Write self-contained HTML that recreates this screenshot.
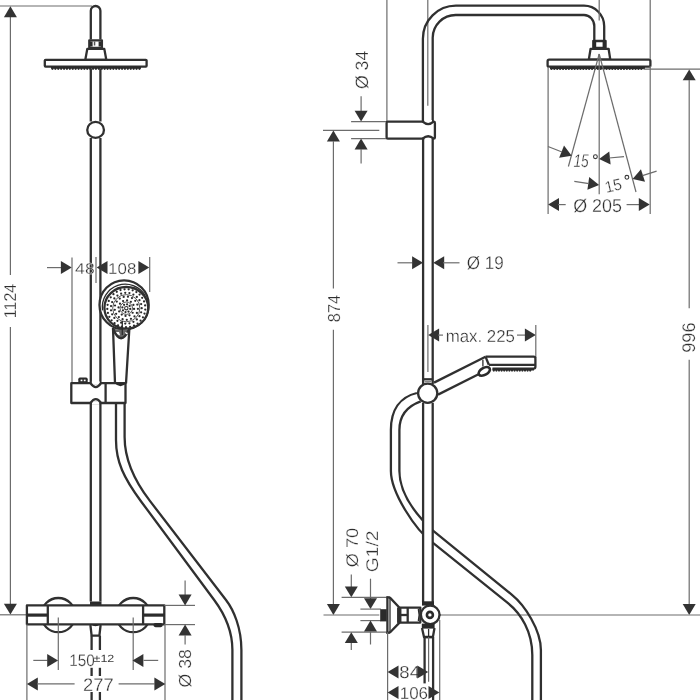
<!DOCTYPE html>
<html><head><meta charset="utf-8"><style>
html,body{margin:0;padding:0;background:#fff;}
svg{display:block;}
.d{stroke:#6c6c6c;stroke-width:1.2;fill:none;}
.o{stroke:#303030;stroke-width:2.3;fill:none;stroke-linejoin:round;}
.o2{stroke:#2b2b2b;stroke-width:1.3;fill:none;}
.ot{stroke:#2b2b2b;stroke-width:3.2;fill:none;}
.nz{stroke:#2b2b2b;stroke-width:2.6;fill:none;stroke-dasharray:3 1;}
.a{fill:#333;stroke:none;}
.ow{fill:#fff;}
.t{font-family:"Liberation Sans",sans-serif;text-rendering:geometricPrecision;fill:#2e2e2e;stroke:#fff;stroke-width:0.3px;}
.ts{stroke:none;fill:#3a3a3a;}
</style></head><body>
<svg width="700" height="700" viewBox="0 0 700 700" style="will-change:transform">
<rect width="700" height="700" fill="#fff"/>
<line class="d" x1="0" y1="6" x2="92" y2="6"/>
<line class="d" x1="10.4" y1="17" x2="10.4" y2="274.9"/>
<line class="d" x1="10.4" y1="326.9" x2="10.4" y2="604"/>
<path class="a" d="M10.4 6.3L16.9 17.2L3.9 17.2Z"/>
<path class="a" d="M10.4 614.6L3.9 603.7L16.9 603.7Z"/>
<text class="t" transform="translate(9.92 300.99) rotate(-90)" x="0" y="6.09" font-size="17.2" text-anchor="middle" textLength="34.33" lengthAdjust="spacingAndGlyphs">1124</text>
<line class="d" x1="0" y1="614.8" x2="27" y2="614.8"/>
<path class="o" d="M90.8 39.5 L90.8 10.8 A4.75 4.75 0 0 1 100.4 10.8 L100.4 39.5"/>
<rect class="o ow" x="89.3" y="40.3" width="12.6" height="7.6" />
<rect x="90" y="41.5" width="2.6" height="5" fill="#2a2a2a"/><rect x="98.6" y="41.5" width="2.6" height="5" fill="#2a2a2a"/><rect x="93.8" y="41.5" width="1.5" height="4" fill="#555"/>
<path class="o" d="M87.3 48.9 L104.3 48.9 L106.3 59.8 L85.3 59.8 Z"/>
<rect class="o ow" x="44.8" y="59.8" width="101.8" height="6.8" rx="0.8" />
<line x1="51" y1="67.7" x2="141" y2="67.7" stroke="#2b2b2b" stroke-width="2.2"/>
<g fill="#2b2b2b"><circle cx="52.45" cy="68.8" r="1.15"/><circle cx="55.35" cy="68.8" r="1.15"/><circle cx="58.25" cy="68.8" r="1.15"/><circle cx="61.15" cy="68.8" r="1.15"/><circle cx="64.05" cy="68.8" r="1.15"/><circle cx="66.95" cy="68.8" r="1.15"/><circle cx="69.85" cy="68.8" r="1.15"/><circle cx="72.75" cy="68.8" r="1.15"/><circle cx="75.65" cy="68.8" r="1.15"/><circle cx="78.55" cy="68.8" r="1.15"/><circle cx="81.45" cy="68.8" r="1.15"/><circle cx="84.35" cy="68.8" r="1.15"/><circle cx="87.25" cy="68.8" r="1.15"/><circle cx="90.15" cy="68.8" r="1.15"/><circle cx="93.05" cy="68.8" r="1.15"/><circle cx="95.95" cy="68.8" r="1.15"/><circle cx="98.85" cy="68.8" r="1.15"/><circle cx="101.75" cy="68.8" r="1.15"/><circle cx="104.65" cy="68.8" r="1.15"/><circle cx="107.55" cy="68.8" r="1.15"/><circle cx="110.45" cy="68.8" r="1.15"/><circle cx="113.35" cy="68.8" r="1.15"/><circle cx="116.25" cy="68.8" r="1.15"/><circle cx="119.15" cy="68.8" r="1.15"/><circle cx="122.05" cy="68.8" r="1.15"/><circle cx="124.95" cy="68.8" r="1.15"/><circle cx="127.85" cy="68.8" r="1.15"/><circle cx="130.75" cy="68.8" r="1.15"/><circle cx="133.65" cy="68.8" r="1.15"/><circle cx="136.55" cy="68.8" r="1.15"/><circle cx="139.45" cy="68.8" r="1.15"/></g>
<line class="o" x1="90.8" y1="69" x2="90.8" y2="121.5"/>
<line class="o" x1="100.4" y1="69" x2="100.4" y2="121.5"/>
<ellipse class="o ow" cx="95.6" cy="129.9" rx="8.35" ry="7.95" />
<line class="o" x1="90.8" y1="138" x2="90.8" y2="384"/>
<line class="o" x1="100.4" y1="138" x2="100.4" y2="384"/>
<line class="d" x1="47" y1="267.6" x2="62" y2="267.6"/>
<path class="a" d="M71.8 267.6L60.9 274.1L60.9 261.1Z"/>
<line class="d" x1="72" y1="257.5" x2="72" y2="383"/>
<text class="t" transform="translate(84.88 268.25) rotate(0)" x="0" y="5.57" font-size="15.75" text-anchor="middle" textLength="19.56" lengthAdjust="spacingAndGlyphs">48</text>
<line class="d" x1="96" y1="257" x2="96" y2="283"/>
<path class="a" d="M96.6 267.6L107.5 261.1L107.5 274.1Z"/>
<text class="t" transform="translate(122.2 268.13) rotate(0)" x="0" y="5.56" font-size="15.7" text-anchor="middle" textLength="28.18" lengthAdjust="spacingAndGlyphs">108</text>
<path class="a" d="M149.3 267.6L138.4 274.1L138.4 261.1Z"/>
<line class="d" x1="149.7" y1="257" x2="149.7" y2="292"/>
<circle class="o ow" cx="124.1" cy="304.9" r="24.6" />
<path class="o2" d="M102.52 310.4 A23 23 0 0 1 145.22 295.7"/>
<ellipse class="o ow" cx="126.3" cy="307.8" rx="21.9" ry="20.8" />
<g fill="#2a2a2a"><circle cx="130.22" cy="308.99" r="1.12"/><circle cx="128.51" cy="311.53" r="1.12"/><circle cx="125.51" cy="312.12" r="1.12"/><circle cx="122.97" cy="310.41" r="1.12"/><circle cx="122.38" cy="307.41" r="1.12"/><circle cx="124.09" cy="304.87" r="1.12"/><circle cx="127.09" cy="304.28" r="1.12"/><circle cx="129.63" cy="305.99" r="1.12"/><circle cx="134.06" cy="308.98" r="1.12"/><circle cx="132.63" cy="312.75" r="1.12"/><circle cx="129.51" cy="315.31" r="1.12"/><circle cx="125.52" cy="315.96" r="1.12"/><circle cx="121.75" cy="314.53" r="1.12"/><circle cx="119.19" cy="311.41" r="1.12"/><circle cx="118.54" cy="307.42" r="1.12"/><circle cx="119.97" cy="303.65" r="1.12"/><circle cx="123.09" cy="301.09" r="1.12"/><circle cx="127.08" cy="300.44" r="1.12"/><circle cx="130.85" cy="301.87" r="1.12"/><circle cx="133.41" cy="304.99" r="1.12"/><circle cx="137.89" cy="308.78" r="1.12"/><circle cx="136.89" cy="312.93" r="1.12"/><circle cx="134.47" cy="316.43" r="1.12"/><circle cx="130.95" cy="318.83" r="1.12"/><circle cx="126.79" cy="319.79" r="1.12"/><circle cx="122.57" cy="319.18" r="1.12"/><circle cx="118.86" cy="317.1" r="1.12"/><circle cx="116.14" cy="313.81" r="1.12"/><circle cx="114.81" cy="309.76" r="1.12"/><circle cx="115.02" cy="305.5" r="1.12"/><circle cx="116.76" cy="301.61" r="1.12"/><circle cx="119.78" cy="298.61" r="1.12"/><circle cx="123.69" cy="296.9" r="1.12"/><circle cx="127.95" cy="296.72" r="1.12"/><circle cx="131.98" cy="298.09" r="1.12"/><circle cx="135.25" cy="300.82" r="1.12"/><circle cx="137.31" cy="304.56" r="1.12"/><circle cx="141.7" cy="308.2" r="1.12"/><circle cx="141.13" cy="312.35" r="1.12"/><circle cx="139.46" cy="316.2" r="1.12"/><circle cx="136.81" cy="319.45" r="1.12"/><circle cx="133.39" cy="321.87" r="1.12"/><circle cx="129.43" cy="323.28" r="1.12"/><circle cx="125.25" cy="323.56" r="1.12"/><circle cx="121.14" cy="322.71" r="1.12"/><circle cx="117.42" cy="320.78" r="1.12"/><circle cx="114.35" cy="317.92" r="1.12"/><circle cx="112.17" cy="314.34" r="1.12"/><circle cx="111.04" cy="310.3" r="1.12"/><circle cx="111.04" cy="306.1" r="1.12"/><circle cx="112.17" cy="302.06" r="1.12"/><circle cx="114.35" cy="298.48" r="1.12"/><circle cx="117.42" cy="295.62" r="1.12"/><circle cx="121.14" cy="293.69" r="1.12"/><circle cx="125.25" cy="292.84" r="1.12"/><circle cx="129.43" cy="293.12" r="1.12"/><circle cx="133.39" cy="294.53" r="1.12"/><circle cx="136.81" cy="296.95" r="1.12"/><circle cx="139.46" cy="300.2" r="1.12"/><circle cx="141.13" cy="304.05" r="1.12"/><circle cx="145.25" cy="309.53" r="1.12"/><circle cx="144.52" cy="313.57" r="1.12"/><circle cx="142.94" cy="317.36" r="1.12"/><circle cx="140.58" cy="320.73" r="1.12"/><circle cx="137.56" cy="323.51" r="1.12"/><circle cx="134" cy="325.57" r="1.12"/><circle cx="130.09" cy="326.82" r="1.12"/><circle cx="126" cy="327.2" r="1.12"/><circle cx="121.92" cy="326.69" r="1.12"/><circle cx="118.05" cy="325.32" r="1.12"/><circle cx="114.56" cy="323.14" r="1.12"/><circle cx="111.63" cy="320.27" r="1.12"/><circle cx="109.37" cy="316.83" r="1.12"/><circle cx="107.91" cy="312.99" r="1.12"/><circle cx="107.31" cy="308.93" r="1.12"/><circle cx="107.6" cy="304.83" r="1.12"/><circle cx="108.76" cy="300.89" r="1.12"/><circle cx="110.74" cy="297.29" r="1.12"/><circle cx="113.45" cy="294.2" r="1.12"/><circle cx="116.76" cy="291.77" r="1.12"/><circle cx="120.52" cy="290.1" r="1.12"/><circle cx="124.55" cy="289.28" r="1.12"/><circle cx="128.65" cy="289.35" r="1.12"/><circle cx="132.65" cy="290.29" r="1.12"/><circle cx="136.35" cy="292.08" r="1.12"/><circle cx="139.58" cy="294.61" r="1.12"/><circle cx="142.19" cy="297.79" r="1.12"/><circle cx="144.06" cy="301.45" r="1.12"/><circle cx="145.1" cy="305.42" r="1.12"/></g>
<circle cx="126.3" cy="308.2" r="1.7" fill="none" stroke="#333" stroke-width="1.1"/>
<circle cx="126.3" cy="308.2" r="6.2" fill="none" stroke="#444" stroke-width="0.9"/>
<circle cx="126.3" cy="308.2" r="13.6" fill="none" stroke="#444" stroke-width="0.9"/>
<path d="M113 328.5 Q121 348 129.4 328.5 Q121 331 113 328.5 Z" fill="#666"/>
<path class="o" d="M113 328.5 Q121 348 129.4 328.5"/>
<path class="o" d="M113 328 L115 383.5 M129.4 328 L126 383.5"/>
<line class="o2" x1="122.3" y1="321" x2="122.3" y2="335"/>
<path d="M116 332 Q118 336 120 335 L119 332 Z M125 332 Q126 336 128 333 Z" fill="#fff"/>
<rect class="o ow" x="71.3" y="383.2" width="54.2" height="19.8" />
<line class="o" x1="105.6" y1="383.2" x2="105.6" y2="403"/>
<rect x="91.8" y="381.5" width="8" height="3" fill="#fff"/><rect x="91.8" y="401.5" width="8" height="3" fill="#fff"/>
<path class="o" d="M90.5 383.2 Q95.8 391 101 383.2 M90.5 403 Q95.8 395.2 101 403" stroke-width="2.5"/>
<path fill="#2a2a2a" d="M114.5 383 Q120.5 389.5 126.5 383 Z"/>
<rect x="78.3" y="377.6" width="9.4" height="5.6" rx="1.6" fill="#2b2b2b"/>
<rect x="80.6" y="379.6" width="1.8" height="1.6" fill="#fff"/><rect x="83.8" y="379.6" width="1.8" height="1.6" fill="#fff"/>
<line class="o" x1="90.8" y1="403" x2="90.8" y2="601.5"/>
<line class="o" x1="100.4" y1="403" x2="100.4" y2="601.5"/>
<rect x="90" y="601.5" width="11.5" height="3.8" fill="#2a2a2a"/>
<path class="o" d="M116 403 L116 440 C116 461.6 123.6 477.8 141.3 501.7 L214.2 600 C224.6 614 232.4 630 232.4 650 L232.4 700"/>
<path class="o" d="M124.6 403 L124.6 437 C124.6 456.2 133.2 479.2 149.9 500.9 L226 600 C233.7 610 241.4 628 241.4 650 L241.4 700"/>
<circle class="o ow" cx="58.3" cy="615.1" r="17.1" />
<circle class="o ow" cx="133.2" cy="615.1" r="17.1" />
<rect class="o ow" x="26.9" y="605.4" width="137.4" height="18.9" />
<line class="o" x1="47.8" y1="605.4" x2="47.8" y2="624.3"/>
<line class="o" x1="143.1" y1="605.4" x2="143.1" y2="624.3"/>
<line class="ot" x1="27" y1="615.1" x2="47.8" y2="615.1"/>
<line class="ot" x1="143.1" y1="615.1" x2="164.3" y2="615.1"/>
<rect x="153.4" y="623" width="9.4" height="4.2" rx="2.1" fill="#2a2a2a"/>
<line class="d" x1="58.3" y1="617.4" x2="58.3" y2="670"/>
<line class="d" x1="133.2" y1="617.4" x2="133.2" y2="670"/>
<path class="o" d="M90.4 625 L91.6 635.6 L99.4 635.6 L100.6 625"/>
<path fill="#2a2a2a" d="M90.4 624 Q95.5 628.5 100.6 624 Z"/>
<line class="o" x1="91.6" y1="635.6" x2="91.6" y2="650"/>
<line class="o" x1="99.9" y1="635.6" x2="99.9" y2="650"/>
<line class="o" x1="91.6" y1="667.8" x2="91.6" y2="676"/>
<line class="o" x1="99.9" y1="667.8" x2="99.9" y2="676"/>
<line class="o" x1="91.6" y1="692" x2="91.6" y2="700"/>
<line class="o" x1="99.9" y1="692" x2="99.9" y2="700"/>
<line class="d" x1="26.9" y1="624.3" x2="26.9" y2="700"/>
<line class="d" x1="165" y1="624.3" x2="165" y2="700"/>
<line class="d" x1="164.3" y1="605.4" x2="195" y2="605.4"/>
<line class="d" x1="164.3" y1="624.6" x2="195" y2="624.6"/>
<line class="d" x1="33.3" y1="660.4" x2="47.5" y2="660.4"/>
<path class="a" d="M58.1 660.4L47.2 666.9L47.2 653.9Z"/>
<path class="a" d="M132.5 660.4L143.4 653.9L143.4 666.9Z"/>
<line class="d" x1="143.5" y1="660.4" x2="158.2" y2="660.4"/>
<text class="t" transform="translate(82.05 660.11) rotate(0)" x="0" y="5.89" font-size="16.64" text-anchor="middle" textLength="25.53" lengthAdjust="spacingAndGlyphs">150</text>
<text class="t ts" transform="translate(103.9 657.84) rotate(0)" x="0" y="3.74" font-size="10.57" text-anchor="middle" textLength="20.76" lengthAdjust="spacingAndGlyphs">±12</text>
<path class="a" d="M26.9 683.9L37.8 677.4L37.8 690.4Z"/>
<line class="d" x1="37" y1="683.9" x2="74.6" y2="683.9"/>
<text class="t" transform="translate(98.31 684.64) rotate(0)" x="0" y="6.46" font-size="18.24" text-anchor="middle" textLength="30.55" lengthAdjust="spacingAndGlyphs">277</text>
<line class="d" x1="118.6" y1="683.9" x2="154.5" y2="683.9"/>
<path class="a" d="M165.3 683.9L154.4 690.4L154.4 677.4Z"/>
<line class="d" x1="185.1" y1="580.6" x2="185.1" y2="595"/>
<path class="a" d="M185.1 605.4L178.6 594.5L191.6 594.5Z"/>
<path class="a" d="M185.1 624.6L191.6 635.5L178.6 635.5Z"/>
<line class="d" x1="185.1" y1="635" x2="185.1" y2="644.6"/>
<text class="t" transform="translate(184.75 668.36) rotate(-90)" x="0" y="6.17" font-size="17.42" text-anchor="middle" textLength="38.24" lengthAdjust="spacingAndGlyphs">Ø 38</text>
<line class="d" x1="386.9" y1="0" x2="386.9" y2="121.7"/>
<line class="d" x1="427.8" y1="0" x2="427.8" y2="20.6"/>
<line class="d" x1="427.8" y1="20.6" x2="427.8" y2="105.7"/>
<path class="o" d="M422.9 121.7 L422.9 38.7 A33 33 0 0 1 455.9 5.7 L584 5.7 A20.2 20.5 0 0 1 604.2 26.3 L604.2 40.3"/>
<path class="o" d="M432.7 121.7 L432.7 37.7 A23 22.7 0 0 1 455.9 15 L584 15 A10.3 11.1 0 0 1 594.3 26.1 L594.3 40.3"/>
<line class="d" x1="599.2" y1="0" x2="599.2" y2="20.6"/>
<rect class="o ow" x="593.4" y="41" width="12.1" height="7" />
<rect x="592.6" y="40.2" width="3.6" height="8.6" fill="#2a2a2a"/><rect x="602.6" y="40.2" width="3.6" height="8.6" fill="#2a2a2a"/>
<path class="o" d="M590.6 48.8 L608.6 48.8 L610.3 59.6 L588.8 59.6 Z"/>
<rect class="o ow" x="547.6" y="59.7" width="102.8" height="7" rx="1.5" />
<line x1="550" y1="67.8" x2="645" y2="67.8" stroke="#2b2b2b" stroke-width="2.2"/>
<g fill="#2b2b2b"><circle cx="551.45" cy="68.9" r="1.15"/><circle cx="554.35" cy="68.9" r="1.15"/><circle cx="557.25" cy="68.9" r="1.15"/><circle cx="560.15" cy="68.9" r="1.15"/><circle cx="563.05" cy="68.9" r="1.15"/><circle cx="565.95" cy="68.9" r="1.15"/><circle cx="568.85" cy="68.9" r="1.15"/><circle cx="571.75" cy="68.9" r="1.15"/><circle cx="574.65" cy="68.9" r="1.15"/><circle cx="577.55" cy="68.9" r="1.15"/><circle cx="580.45" cy="68.9" r="1.15"/><circle cx="583.35" cy="68.9" r="1.15"/><circle cx="586.25" cy="68.9" r="1.15"/><circle cx="589.15" cy="68.9" r="1.15"/><circle cx="592.05" cy="68.9" r="1.15"/><circle cx="594.95" cy="68.9" r="1.15"/><circle cx="597.85" cy="68.9" r="1.15"/><circle cx="600.75" cy="68.9" r="1.15"/><circle cx="603.65" cy="68.9" r="1.15"/><circle cx="606.55" cy="68.9" r="1.15"/><circle cx="609.45" cy="68.9" r="1.15"/><circle cx="612.35" cy="68.9" r="1.15"/><circle cx="615.25" cy="68.9" r="1.15"/><circle cx="618.15" cy="68.9" r="1.15"/><circle cx="621.05" cy="68.9" r="1.15"/><circle cx="623.95" cy="68.9" r="1.15"/><circle cx="626.85" cy="68.9" r="1.15"/><circle cx="629.75" cy="68.9" r="1.15"/><circle cx="632.65" cy="68.9" r="1.15"/><circle cx="635.55" cy="68.9" r="1.15"/><circle cx="638.45" cy="68.9" r="1.15"/><circle cx="641.35" cy="68.9" r="1.15"/></g>
<line class="d" x1="650.2" y1="0" x2="650.2" y2="59"/>
<line class="d" x1="650.2" y1="66" x2="650.2" y2="214"/>
<line class="d" x1="548.1" y1="67" x2="548.1" y2="214"/>
<line class="d" x1="599.2" y1="54" x2="599.2" y2="194.3"/>
<line class="d" x1="599.2" y1="54" x2="568.4" y2="166.5"/>
<line class="d" x1="599.2" y1="54" x2="636" y2="192"/>
<path class="a" d="M571.7 155.7L559.16 157.64L564.03 145.59Z"/>
<line class="d" x1="548" y1="146.5" x2="562" y2="152"/>
<path class="a" d="M599.1 159.1L609.26 151.5L610.62 164.43Z"/>
<line class="d" x1="609" y1="158" x2="624" y2="156.6"/>
<path class="a" d="M599.1 184.9L587.4 189.82L589.21 176.95Z"/>
<line class="d" x1="574.3" y1="181.4" x2="589" y2="183.6"/>
<path class="a" d="M632.6 178.9L640.96 169.35L644.98 181.71Z"/>
<line class="d" x1="642.5" y1="175.6" x2="656.6" y2="171.1"/>
<text class="t" transform="translate(581.07 160.4) rotate(0)" x="0" y="6.51" font-size="18.38" text-anchor="middle" textLength="15.25" lengthAdjust="spacingAndGlyphs" font-style="italic">15</text>
<circle cx="595.4" cy="156.7" r="1.9" fill="none" stroke="#3a3a3a" stroke-width="1.1"/>
<text class="t" transform="translate(613.28 185.43) rotate(-13)" x="0" y="5.75" font-size="16.25" text-anchor="middle" textLength="16.95" lengthAdjust="spacingAndGlyphs">15</text>
<circle cx="626.9" cy="177.3" r="1.9" fill="none" stroke="#3a3a3a" stroke-width="1.1"/>
<path class="a" d="M548.1 204.6L559 198.1L559 211.1Z"/>
<line class="d" x1="558" y1="204.6" x2="565.7" y2="204.6"/>
<text class="t" transform="translate(597.53 205.15) rotate(0)" x="0" y="6.58" font-size="18.6" text-anchor="middle" textLength="48.72" lengthAdjust="spacingAndGlyphs">Ø 205</text>
<line class="d" x1="626.6" y1="204.6" x2="640" y2="204.6"/>
<path class="a" d="M649.7 204.6L638.8 211.1L638.8 198.1Z"/>
<line class="d" x1="643.5" y1="69.2" x2="700" y2="69.2"/>
<path class="a" d="M689.2 69.4L695.7 80.3L682.7 80.3Z"/>
<line class="d" x1="689.2" y1="80" x2="689.2" y2="308.3"/>
<line class="d" x1="689.2" y1="359.7" x2="689.2" y2="604.5"/>
<path class="a" d="M689.2 615L682.7 604.1L695.7 604.1Z"/>
<text class="t" transform="translate(688.87 337.58) rotate(-90)" x="0" y="6.48" font-size="18.29" text-anchor="middle" textLength="30.42" lengthAdjust="spacingAndGlyphs">996</text>
<rect class="o ow" x="386.6" y="121.7" width="48.3" height="16.9" rx="1.2" stroke-width="2.5"/>
<rect x="424.2" y="120" width="7.8" height="3" fill="#fff"/><rect x="424.2" y="137.2" width="7.8" height="3" fill="#fff"/>
<path class="o" d="M422.6 121.7 Q428.2 126.5 433.6 121.7 M422.6 138.6 Q428.2 133.8 433.6 138.6" stroke-width="2.4"/>
<line class="d" x1="361.1" y1="96.2" x2="361.1" y2="111"/>
<path class="a" d="M361.1 121.6L354.6 110.7L367.6 110.7Z"/>
<path class="a" d="M361.1 138.6L367.6 149.5L354.6 149.5Z"/>
<line class="d" x1="361.1" y1="149" x2="361.1" y2="163.6"/>
<line class="d" x1="351.1" y1="121.7" x2="386" y2="121.7"/>
<line class="d" x1="351.1" y1="138.6" x2="386" y2="138.6"/>
<line class="d" x1="323" y1="130.3" x2="379.3" y2="130.3"/>
<text class="t" transform="translate(361.23 69.93) rotate(-90)" x="0" y="6.32" font-size="17.84" text-anchor="middle" textLength="38.29" lengthAdjust="spacingAndGlyphs">Ø 34</text>
<path class="a" d="M333.4 130.6L339.9 141.5L326.9 141.5Z"/>
<line class="d" x1="333.4" y1="141" x2="333.4" y2="288.6"/>
<line class="d" x1="333.4" y1="329.7" x2="333.4" y2="604.5"/>
<path class="a" d="M333.4 615L326.9 604.1L339.9 604.1Z"/>
<text class="t" transform="translate(333.9 308.56) rotate(-90)" x="0" y="6.16" font-size="17.4" text-anchor="middle" textLength="27.29" lengthAdjust="spacingAndGlyphs">874</text>
<line class="d" x1="0" y1="614.9" x2="0" y2="614.9"/>
<line class="d" x1="323.5" y1="615" x2="379.3" y2="615"/>
<line class="d" x1="440.5" y1="615" x2="700" y2="615"/>
<line class="o" x1="423.1" y1="138.6" x2="423.1" y2="384"/>
<line class="o" x1="432.7" y1="138.6" x2="432.7" y2="384"/>
<line class="d" x1="427.9" y1="325" x2="427.9" y2="372"/>
<line class="d" x1="397.5" y1="262.8" x2="412.5" y2="262.8"/>
<path class="a" d="M423 262.8L412.1 269.3L412.1 256.3Z"/>
<path class="a" d="M433.3 262.8L444.2 256.3L444.2 269.3Z"/>
<line class="d" x1="443" y1="262.8" x2="459.5" y2="262.8"/>
<text class="t" transform="translate(485.35 262.82) rotate(0)" x="0" y="6.49" font-size="18.33" text-anchor="middle" textLength="37" lengthAdjust="spacingAndGlyphs">Ø 19</text>
<path class="a" d="M428.2 335.1L439.1 328.6L439.1 341.6Z"/>
<line class="d" x1="438" y1="335.1" x2="443" y2="335.1"/>
<text class="t" transform="translate(480.27 335.4) rotate(0)" x="0" y="6.14" font-size="17.36" text-anchor="middle" textLength="69.17" lengthAdjust="spacingAndGlyphs">max. 225</text>
<line class="d" x1="517" y1="335.1" x2="526" y2="335.1"/>
<path class="a" d="M535.8 335.1L524.9 341.6L524.9 328.6Z"/>
<line class="d" x1="535.8" y1="325" x2="535.8" y2="358"/>
<path class="o" d="M434 382.6 L485.5 356.7"/>
<path class="o" d="M438 394.6 L480.5 373.3"/>
<path class="o" d="M485.5 356.6 L533.6 356.6 Q535.4 356.6 535.4 358.4 L535.4 366.8 Q535.4 368.6 533.6 368.6 L492.5 368.6"/>
<line class="o" x1="488.8" y1="364.8" x2="535.4" y2="364.8"/>
<path class="o" d="M485.5 356.6 L488.8 364.8"/>
<line class="o2" x1="482.9" y1="359.8" x2="482.9" y2="366.5"/>
<line x1="492.5" y1="369.6" x2="534" y2="369.6" stroke="#2b2b2b" stroke-width="2.0"/>
<g fill="#2b2b2b"><circle cx="493.8" cy="370.6" r="1.1"/><circle cx="496.4" cy="370.6" r="1.1"/><circle cx="499" cy="370.6" r="1.1"/><circle cx="501.6" cy="370.6" r="1.1"/><circle cx="504.2" cy="370.6" r="1.1"/><circle cx="506.8" cy="370.6" r="1.1"/><circle cx="509.4" cy="370.6" r="1.1"/><circle cx="512" cy="370.6" r="1.1"/><circle cx="514.6" cy="370.6" r="1.1"/><circle cx="517.2" cy="370.6" r="1.1"/><circle cx="519.8" cy="370.6" r="1.1"/><circle cx="522.4" cy="370.6" r="1.1"/><circle cx="525" cy="370.6" r="1.1"/><circle cx="527.6" cy="370.6" r="1.1"/><circle cx="530.2" cy="370.6" r="1.1"/></g>
<ellipse cx="484.3" cy="371.4" rx="6.2" ry="3.5" transform="rotate(-30 484.3 371.4)" fill="#fff" stroke="#2b2b2b" stroke-width="2.6"/>
<circle class="o ow" cx="427.7" cy="393.2" r="9.6" />
<line class="o" x1="423" y1="379.3" x2="433" y2="379.3"/>
<rect x="424.5" y="381" width="7" height="1.4" fill="#888"/>
<path class="o" d="M416.9 393 C400 397 390.9 410 390.9 430 L390.9 471 C390.9 492 415 530 433 542.9 L508 603.2 C521 613.5 532.3 632 532.3 655 L532.3 700"/>
<path class="o" d="M420.7 401.4 C408 406 399.4 415 399.4 430 L399.4 471 C399.4 490 412 511 433 530.7 L511.7 594.6 C524.7 605 540.9 630 540.9 650 L540.9 700"/>
<rect x="424" y="512" width="8.2" height="40" fill="#fff"/>
<line class="o" x1="423.1" y1="403" x2="423.1" y2="602"/>
<line class="o" x1="432.7" y1="403" x2="432.7" y2="602"/>
<rect x="422.2" y="601.5" width="11.8" height="3" fill="#2a2a2a"/>
<line class="d" x1="351.3" y1="574.5" x2="351.3" y2="587"/>
<path class="a" d="M351.3 597.3L344.8 586.4L357.8 586.4Z"/>
<line class="d" x1="341.6" y1="597.3" x2="386.4" y2="597.3"/>
<line class="d" x1="341.6" y1="632.2" x2="386.4" y2="632.2"/>
<path class="a" d="M351.3 632.2L357.8 643.1L344.8 643.1Z"/>
<line class="d" x1="351.3" y1="642.9" x2="351.3" y2="650"/>
<line class="d" x1="370.5" y1="578.7" x2="370.5" y2="599"/>
<path class="a" d="M370.5 609.1L364 598.2L377 598.2Z"/>
<line class="d" x1="360.4" y1="609.1" x2="380.9" y2="609.1"/>
<line class="d" x1="360.4" y1="620.6" x2="380.9" y2="620.6"/>
<path class="a" d="M370.5 620.6L377 631.5L364 631.5Z"/>
<line class="d" x1="370.5" y1="631.5" x2="370.5" y2="644.5"/>
<text class="t" transform="translate(352.38 547.5) rotate(-90)" x="0" y="5.96" font-size="16.83" text-anchor="middle" textLength="39.31" lengthAdjust="spacingAndGlyphs">Ø 70</text>
<text class="t" transform="translate(371.5 551.31) rotate(-90)" x="0" y="6" font-size="16.95" text-anchor="middle" textLength="41.78" lengthAdjust="spacingAndGlyphs">G1/2</text>
<rect x="380.2" y="609.2" width="6.6" height="12.2" fill="#2a2a2a"/>
<line class="o" x1="387.4" y1="596.4" x2="387.4" y2="633.7"/>
<line class="o2" x1="390" y1="597.4" x2="390" y2="632.7"/>
<line class="o" x1="386.5" y1="597.4" x2="390" y2="597.4"/>
<line class="o" x1="386.5" y1="632.7" x2="390" y2="632.7"/>
<path class="o" d="M389.7 597.4 L399.3 607.5 L399.3 622.9 L389.7 632.7"/>
<line class="o" x1="398.2" y1="607.5" x2="398.2" y2="622.9"/>
<rect class="o ow" x="400.3" y="607.6" width="20" height="15" stroke-width="2.3"/>
<line class="o" x1="407.7" y1="607.6" x2="407.7" y2="622.6"/>
<line class="o" x1="400.3" y1="615" x2="407.7" y2="615"/>
<path class="o2" d="M418.3 609 Q420 615 418.3 621"/>
<rect x="422" y="601.6" width="12" height="4" fill="#2a2a2a"/>
<path fill="#2a2a2a" d="M436.5 608 L440.8 614.9 L436.5 621.8 Z"/>
<circle class="o ow" cx="430.2" cy="614.8" r="9.3" stroke-width="2.4"/>
<circle cx="429.9" cy="614.9" r="3.0" fill="#fff" stroke="#2a2a2a" stroke-width="2.6"/>
<rect x="421.8" y="623.6" width="12.8" height="5" fill="#2a2a2a"/>
<path class="o" d="M422 628 L424 637 L432.9 637 L434.5 628"/>
<rect x="423.8" y="636" width="9.4" height="2.2" fill="#2a2a2a"/>
<line class="o2" x1="428.6" y1="629" x2="428.6" y2="636"/>
<line class="o" x1="424.6" y1="637" x2="424.6" y2="683.4"/>
<line class="o" x1="433.1" y1="637" x2="433.1" y2="700"/>
<line class="d" x1="428.6" y1="637" x2="428.6" y2="681.7"/>
<line class="d" x1="387.6" y1="632.2" x2="387.6" y2="700"/>
<line class="d" x1="439.7" y1="620" x2="439.7" y2="700"/>
<path class="a" d="M387.6 672L398.5 665.5L398.5 678.5Z"/>
<text class="t" transform="translate(409.67 672.07) rotate(0)" x="0" y="6.15" font-size="17.38" text-anchor="middle" textLength="20.62" lengthAdjust="spacingAndGlyphs">84</text>
<path class="a" d="M428.2 672L417.3 678.5L417.3 665.5Z"/>
<path class="a" d="M387.6 692.6L398.5 686.1L398.5 699.1Z"/>
<text class="t" transform="translate(413.88 693.24) rotate(0)" x="0" y="6.06" font-size="17.11" text-anchor="middle" textLength="28.33" lengthAdjust="spacingAndGlyphs">106</text>
<path class="a" d="M439.4 692.6L428.5 699.1L428.5 686.1Z"/>
</svg>
</body></html>
